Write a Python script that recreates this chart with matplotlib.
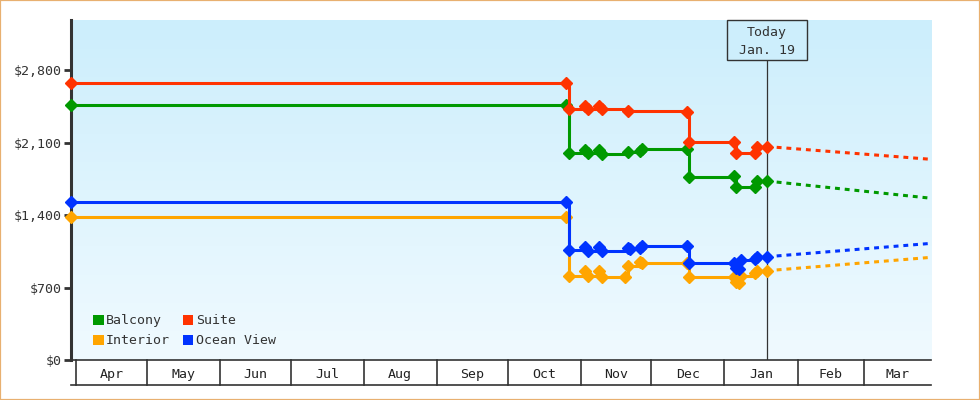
import pandas as pd
import numpy as np
import matplotlib
matplotlib.use("Agg")
import matplotlib.pyplot as plt
import matplotlib.dates as mdates
import matplotlib.transforms as mtransforms
from matplotlib.patches import Rectangle

plt.rcParams['font.family'] = ['DejaVu Sans Mono']

# price history, one list per cabin type
balcony_dates = ["2024-03-30", "2024-10-26", "2024-10-27", "2024-11-03", "2024-11-04", "2024-11-09",
                 "2024-11-10", "2024-11-21", "2024-11-26", "2024-11-27", "2024-12-16", "2024-12-17",
                 "2025-01-05", "2025-01-06", "2025-01-14", "2025-01-15", "2025-01-19"]
balcony_prices = [2462, 2462, 1999, 2028, 1999, 2028, 1990, 2008, 2018, 2040, 2040, 1770,
                  1775, 1673, 1673, 1728, 1728]

suite_dates = ["2024-03-30", "2024-10-26", "2024-10-27", "2024-11-03", "2024-11-04", "2024-11-09",
               "2024-11-10", "2024-11-21", "2024-12-16", "2024-12-17", "2025-01-05", "2025-01-06",
               "2025-01-14", "2025-01-15", "2025-01-19"]
suite_prices = [2675, 2675, 2423, 2452, 2423, 2452, 2423, 2407, 2395, 2105, 2105, 1999,
                1999, 2061, 2061]

interior_dates = ["2024-03-30", "2024-10-26", "2024-10-27", "2024-11-03", "2024-11-04", "2024-11-09",
                  "2024-11-10", "2024-11-20", "2024-11-21", "2024-11-26", "2024-11-27", "2024-12-16",
                  "2024-12-17", "2025-01-05", "2025-01-06", "2025-01-07", "2025-01-08", "2025-01-14",
                  "2025-01-15", "2025-01-19"]
interior_prices = [1381, 1381, 814, 856, 808, 856, 804, 804, 905, 945, 932, 932,
                   805, 805, 756, 746, 811, 837, 862, 862]

ocean_dates = ["2024-03-30", "2024-10-26", "2024-10-27", "2024-11-03", "2024-11-04", "2024-11-09",
               "2024-11-10", "2024-11-21", "2024-11-22", "2024-11-26", "2024-11-27", "2024-12-16",
               "2024-12-17", "2025-01-05", "2025-01-06", "2025-01-07", "2025-01-08", "2025-01-14",
               "2025-01-15", "2025-01-19"]
ocean_prices = [1526, 1526, 1062, 1090, 1055, 1090, 1052, 1085, 1068, 1085, 1104, 1104,
                939, 939, 885, 880, 966, 975, 997, 997]

# forecast after today
forecast_dates = ["2025-01-19", "2025-03-30"]
balcony_fc = [1728, 1561]
suite_fc = [2061, 1937]
interior_fc = [862, 992]
ocean_fc = [997, 1127]

names = ["Balcony", "Suite", "Interior", "Ocean View"]
colors = ["#009900", "#ff3300", "#ffa500", "#0033ff"]

months = ["Apr", "May", "Jun", "Jul", "Aug", "Sep", "Oct", "Nov", "Dec", "Jan", "Feb", "Mar"]
month_starts = pd.date_range("2024-04-01", periods=12, freq="MS")
yticks = [0, 700, 1400, 2100, 2800]
today = pd.Timestamp("2025-01-19")

dark = "#333333"

fig = plt.figure(figsize=(9.8, 4), dpi=100)
ax = fig.add_axes([71 / 980, 40 / 400, 860 / 980, 340 / 400])

x0 = pd.Timestamp("2024-03-29 21:00")
x1 = pd.Timestamp("2025-03-29 14:00")
ax.set_xlim(x0, x1)
ax.set_ylim(0, 3283)

# gradient background
grad = np.linspace(0, 1, 256).reshape(-1, 1)
top = np.array([204, 238, 252]) / 255
bot = np.array([240, 250, 255]) / 255
img = top[None, None, :] * (1 - grad[:, :, None]) + bot[None, None, :] * grad[:, :, None]
ax.imshow(img, extent=[0, 1, 0, 1], transform=ax.transAxes, aspect="auto", zorder=0)

series = [
    (balcony_dates, balcony_prices, balcony_fc),
    (suite_dates, suite_prices, suite_fc),
    (interior_dates, interior_prices, interior_fc),
    (ocean_dates, ocean_prices, ocean_fc),
]
fc_x = pd.to_datetime(forecast_dates)
for (d, p, fc), c in zip(series, colors):
    ax.plot(pd.to_datetime(d), p, color=c, lw=2.2, drawstyle="steps-post",
            marker="D", ms=6, mec=c, mfc=c, zorder=4, clip_on=False)
    ax.plot(fc_x, fc, color=c, lw=2.2, ls=(0, (1.6, 1.6)), zorder=3)

# today marker
ax.axvline(today, ymin=0, ymax=0.882, color=dark, lw=0.9, zorder=2)
tn = mdates.date2num(today)
blend = mtransforms.blended_transform_factory(ax.transData, ax.transAxes)
ax.add_patch(Rectangle((tn - 17, 0.882), 34, 0.118, transform=blend, facecolor="#cdeefc",
                       edgecolor=dark, lw=1, zorder=5, clip_on=False))
ax.text(tn, 0.963, "Today", transform=blend, ha="center", va="center", fontsize=9.5, color=dark, zorder=6)
ax.text(tn, 0.910, "Jan. 19", transform=blend, ha="center", va="center", fontsize=9.5, color=dark, zorder=6)

# legend
leg_x = [0.0256, 0.130, 0.0256, 0.130]
leg_y = [0.1176, 0.1176, 0.0588, 0.0588]
for name, c, lx, ly in zip(names, colors, leg_x, leg_y):
    ax.add_patch(Rectangle((lx, ly - 0.0147), 0.0122, 0.0294, transform=ax.transAxes,
                           facecolor=c, edgecolor="none", zorder=6))
    ax.text(lx + 0.0153, ly, name, transform=ax.transAxes, ha="left", va="center",
            fontsize=9.5, color=dark, zorder=6)

# spines and ticks
for s in ["top", "right"]:
    ax.spines[s].set_visible(False)
ax.spines["left"].set_color(dark)
ax.spines["left"].set_linewidth(2.2)
ax.spines["bottom"].set_color(dark)
ax.spines["bottom"].set_linewidth(1.2)
ax.set_yticks(yticks)
ax.set_yticklabels(["${:,}".format(v) for v in yticks])
ax.tick_params(axis="y", length=5, width=2, color=dark, pad=2, labelsize=9.5, labelcolor=dark)

# month band under the plot
edges = list(month_starts) + [x1]
mids = [a + (b - a) / 2 for a, b in zip(edges[:-1], edges[1:])]
ax.set_xticks(mids)
ax.set_xticklabels(months)
ax.tick_params(axis="x", length=0, pad=6, labelsize=9.5, labelcolor="#222222")
xt = ax.get_xaxis_transform()
for m in month_starts:
    ax.plot([m, m], [0, -0.0735], color=dark, lw=1.2, transform=xt, clip_on=False)
ax.plot([0, 1], [-0.0735, -0.0735], color=dark, lw=1.2, transform=ax.transAxes, clip_on=False)

fig.add_artist(Rectangle((0, 0), 1, 1, transform=fig.transFigure, fill=False,
                         edgecolor="#e8b070", lw=1.6))

fig.savefig("out.png", dpi=100)
